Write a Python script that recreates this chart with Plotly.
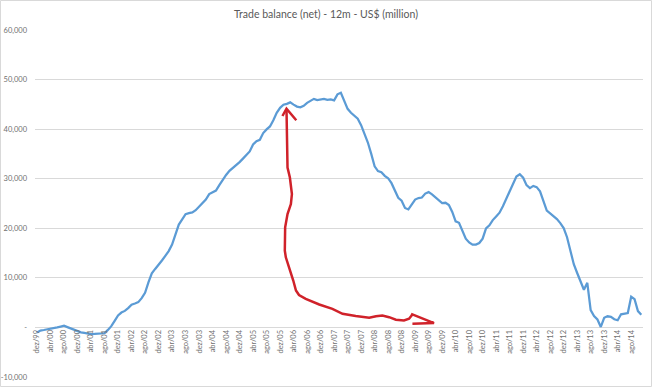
import plotly.graph_objects as go

# Month index 0 = dez/99 ... 179 = nov/14
trade_balance = [
    -1000, -630, -520, -420, -320, -190, 0, 170, 340, 70,
    -200, -480, -740, -1000, -1120, -1240, -1340, -1320, -1300, -1280,
    -1180, -500, 250, 1330, 2430, 3000, 3330, 3900, 4600, 4840,
    5100, 5900, 7000, 9100, 10900, 11800, 12600, 13500, 14450, 15400,
    16700, 18700, 20750, 21800, 22850, 23050, 23200, 23650, 24400, 25050,
    25800, 26900, 27250, 27600, 28700, 29800, 30750, 31600, 32200, 32650,
    33350, 34050, 34700, 35500, 36900, 37550, 37850, 39200, 39950, 40550,
    41800, 43300, 44300, 44930, 45100, 45400, 44950, 44550, 44400, 44700,
    45300, 45750, 46100, 45850, 46050, 46100, 45900, 46000, 45810, 47020,
    47340, 45700, 44100, 43300, 42700, 42100, 40800, 39200, 37300, 35000,
    32500, 31550, 31300, 30580, 30100, 29100, 27700, 26150, 25550, 24100,
    23800, 24750, 25800, 26100, 26200, 27000, 27300, 26850, 26250, 25700,
    25100, 25150, 24700, 23300, 21400, 21100, 19520, 17900, 17150, 16700,
    16700, 17020, 17900, 20000, 20600, 21650, 22400, 23150, 24450, 25950,
    27450, 29150, 30450, 30900, 30200, 28700, 28100, 28550, 28300, 27450,
    25400, 23550, 22990, 22400, 21850, 21050, 20050, 18200, 15300, 12750,
    10980, 9150, 7600, 9000, 3500, 2300, 1600, 100, 1950, 2250,
    2150, 1650, 1450, 2650, 2760, 2900, 6200, 5700, 3300, 2550,
]
month_index = list(range(len(trade_balance)))

tick_positions = list(range(0, 177, 4))
tick_labels = [
    "dez/99", "abr/00", "ago/00", "dez/00", "abr/01", "ago/01", "dez/01",
    "abr/02", "ago/02", "dez/02", "abr/03", "ago/03", "dez/03", "abr/04",
    "ago/04", "dez/04", "abr/05", "ago/05", "dez/05", "abr/06", "ago/06",
    "dez/06", "abr/07", "ago/07", "dez/07", "abr/08", "ago/08", "dez/08",
    "abr/09", "ago/09", "dez/09", "abr/10", "ago/10", "dez/10", "abr/11",
    "ago/11", "dez/11", "abr/12", "ago/12", "dez/12", "abr/13", "ago/13",
    "dez/13", "abr/14", "ago/14",
]

y_ticks = [-10000, 0, 10000, 20000, 30000, 40000, 50000, 60000]
y_tick_labels = ["-10,000", "-", "10,000", "20,000", "30,000", "40,000", "50,000", "60,000"]

# Hand-drawn red annotation arrow (month index, value)
arrow_x = [72.7, 73.9, 76.8, None,
           73.9, 74.2, 74.9, 75.5, 75.2, 74.2, 73.5, 73.4, 73.7, 74.7, 75.9,
           76.7, 77.6, 79.6, 83.6, 87.5, 90.5, 94.4, 98.4, 100.4, 102.3,
           104.3, 106.3, 108.7, 110.2, 111.2, None,
           110.8, 117.6, 111.2]
arrow_y = [42650, 44120, 41790, None,
           44060, 32250, 30240, 26900, 24890, 22880, 20180, 15490, 14140, 12130, 9460,
           7440, 6540, 5770, 4630, 3760, 2760, 2310, 1950, 2270, 2410,
           2070, 1550, 1410, 1750, 2620, None,
           2720, 870, 740]

fig = go.Figure()
fig.add_trace(go.Scatter(
    x=month_index, y=trade_balance, mode="lines",
    line=dict(color="#5b9bd5", width=2.25), hoverinfo="skip",
))
fig.add_trace(go.Scatter(
    x=arrow_x, y=arrow_y, mode="lines",
    line=dict(color="#d0222a", width=2.5), hoverinfo="skip",
    connectgaps=False,
))

tick_font = dict(family="Lato, 'Open Sans', sans-serif", size=7.5, color="#707070")

W, H = 652, 387
L, R, T, B = 35, 9, 30, 10
PW, PH = W - L - R, H - T - B

fig.update_layout(
    width=W, height=H,
    margin=dict(l=L, r=R, t=T, b=B, autoexpand=False),
    paper_bgcolor="white", plot_bgcolor="white",
    showlegend=False,
    hovermode=False,
    title=dict(
        text="Trade balance (net) - 12m - US$ (million)",
        x=326 / W, xref="container", xanchor="center",
        y=1 - 14 / H, yanchor="middle",
        font=dict(family="Lato, 'Open Sans', sans-serif", size=10.5, color="#595959"),
    ),
    xaxis=dict(
        range=[-0.6, 179.5],
        tickmode="array", tickvals=tick_positions, ticktext=tick_labels,
        tickangle=-90, tickfont=tick_font,
        showgrid=False, zeroline=False, showline=False, ticks="",
        anchor="free", position=1/7, automargin=False,
    ),
    yaxis=dict(
        range=[-10000, 60000],
        tickmode="array", tickvals=y_ticks, ticktext=y_tick_labels,
        tickfont=tick_font,
        showgrid=True, gridcolor="#d9d9d9", gridwidth=1,
        zeroline=False, showline=False, ticks="",
        ticklabelstandoff=7, automargin=False,
    ),
    shapes=[dict(
        type="rect", xref="paper", yref="paper",
        x0=(0.5 - L) / PW, x1=(651.5 - L) / PW,
        y0=(H - B - 386.5) / PH, y1=(H - B - 0.5) / PH,
        line=dict(color="#d9d9d9", width=1), fillcolor="rgba(0,0,0,0)",
    )],
)

fig.write_html(
    "out.html",
    config={"displayModeBar": False, "staticPlot": True},
    post_script="document.body.style.margin='0';",
)
